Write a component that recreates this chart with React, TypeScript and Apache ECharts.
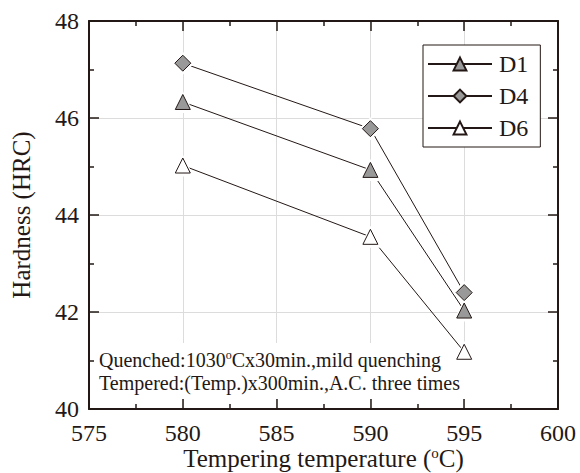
import React, { useEffect, useRef } from "react";
import * as echarts from "echarts";

const temps = [580, 590, 595];
const d1 = [46.33, 44.93, 42.03];
const d4 = [47.13, 45.78, 42.4];
const d6 = [45.02, 43.55, 41.18];
const seriesNames = ["D1", "D4", "D6"];
const noteLine1 = ["Quenched:1030", "o", "Cx30min.,mild quenching"];
const noteLine2 = "Tempered:(Temp.)x300min.,A.C. three times";

const FONT = "'Liberation Serif', 'Times New Roman', serif";
const INK = "#231815";

export default function App() {
  const ref = useRef<HTMLDivElement>(null);
  useEffect(() => {
    if (!ref.current) return;
    const chart = echarts.init(ref.current, null, { renderer: "svg" });
    const axisLine = { show: true, lineStyle: { color: INK, width: 2 } };
    const tick = { show: true, inside: true, length: 10, lineStyle: { color: INK, width: 1.5 } };
    const minorTick = { show: true, splitNumber: 2, length: 5, lineStyle: { color: INK, width: 1.5 } };
    const label = { fontFamily: FONT, fontSize: 24, color: INK };
    const pts = (data: number[]) => temps.map((t, i) => [t, data[i]]);
    const mk = (name: string, data: number[], symbol: string, fill: string, size: number) => [
      {
        name,
        type: "line",
        data: pts(data),
        symbol,
        symbolSize: size,
        lineStyle: { color: INK, width: 1 },
        itemStyle: { color: fill, borderColor: INK, borderWidth: 1 },
        z: 3,
      },
      {
        name: name + "-halo",
        type: "line",
        data: pts(data),
        symbol,
        symbolSize: size + 7,
        lineStyle: { width: 0, opacity: 0 },
        itemStyle: { color: "#ffffff", borderWidth: 0 },
        z: 4,
        silent: true,
      },
      {
        name: name + "-mark",
        type: "line",
        data: pts(data),
        symbol,
        symbolSize: size,
        lineStyle: { width: 0, opacity: 0 },
        itemStyle: { color: fill, borderColor: INK, borderWidth: 1 },
        z: 5,
      },
    ];
    chart.setOption({
      animation: false,
      backgroundColor: "#ffffff",
      grid: { left: 89, top: 21, width: 469, height: 388, containLabel: false, outerBoundsMode: "none" },
      xAxis: [
        {
          type: "value", min: 575, max: 600, interval: 5,
          axisLine, axisTick: tick, minorTick,
          axisLabel: { ...label, margin: 12 },
          splitLine: { show: true, lineStyle: { color: "#dcdcdc", width: 1 } },
          name: "{a|Tempering temperature (}{s|o}{a|C)}",
          nameLocation: "middle", nameGap: 36, nameMoveOverlap: false,
          nameTextStyle: {
            rich: {
              a: { fontFamily: FONT, fontSize: 25, color: INK },
              s: { fontFamily: FONT, fontSize: 15, color: INK, verticalAlign: "top", padding: [0, 0, 11, 0] },
            },
          },
        },
        {
          type: "value", position: "top", min: 575, max: 600, interval: 5,
          axisLine, axisTick: tick, minorTick,
          axisLabel: { show: false }, splitLine: { show: false },
        },
      ],
      yAxis: [
        {
          type: "value", min: 40, max: 48, interval: 2,
          axisLine, axisTick: tick, minorTick,
          axisLabel: { ...label, margin: 10 },
          splitLine: { show: true, lineStyle: { color: "#dcdcdc", width: 1 } },
          name: "Hardness (HRC)", nameLocation: "middle", nameGap: 55, nameMoveOverlap: false,
          nameTextStyle: { fontFamily: FONT, fontSize: 25, color: INK },
        },
        {
          type: "value", position: "right", min: 40, max: 48, interval: 2,
          axisLine, axisTick: tick, minorTick,
          axisLabel: { show: false }, splitLine: { show: false },
        },
      ],
      legend: {
        orient: "vertical", left: 423, top: 45,
        itemWidth: 64, itemHeight: 16, itemGap: 8,
        padding: [7, 12, 7, 4],
        borderColor: INK, borderWidth: 1, backgroundColor: "#ffffff",
        textStyle: { fontFamily: FONT, fontSize: 24, color: INK, padding: [0, 0, 0, 2] },
        data: seriesNames,
      },
      series: [
        ...mk(seriesNames[0], d1, "triangle", "#999999", 15),
        ...mk(seriesNames[1], d4, "diamond", "#999999", 16),
        ...mk(seriesNames[2], d6, "triangle", "#ffffff", 15),
      ],
      graphic: [
        {
          type: "rect", left: 96, top: 343, z: 1,
          shape: { width: 372, height: 56 },
          style: { fill: "#ffffff" },
        },
        {
          type: "text", left: 99, top: 349, z: 2,
          style: {
            text: `{a|${noteLine1[0]}}{s|${noteLine1[1]}}{a|${noteLine1[2]}}`,
            rich: {
              a: { fontFamily: FONT, fontSize: 20, fill: INK },
              s: { fontFamily: FONT, fontSize: 12, fill: INK, verticalAlign: "top", padding: [0, 0, 9, 0] },
            },
          },
        },
        {
          type: "text", left: 99, top: 373, z: 2,
          style: { text: noteLine2, fontFamily: FONT, fontSize: 20, fill: INK },
        },
      ],
    });
    return () => chart.dispose();
  }, []);
  return <div ref={ref} style={{ position: "fixed", left: 0, top: 0, width: 580, height: 473 }} />;
}
